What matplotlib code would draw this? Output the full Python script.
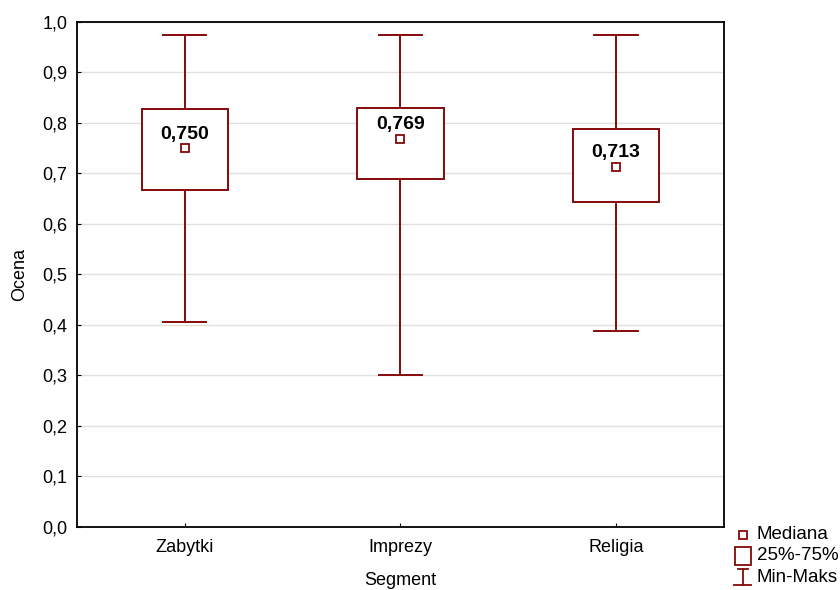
import matplotlib
matplotlib.use("Agg")
from matplotlib import pyplot as plt
from matplotlib.ticker import FuncFormatter, MultipleLocator
from matplotlib.lines import Line2D
from matplotlib.patches import Rectangle

plt.rcParams['font.family'] = ['Liberation Sans', 'DejaVu Sans']

segments = ['Zabytki', 'Imprezy', 'Religia']
medians = [0.750, 0.769, 0.713]
q25 = [0.667, 0.690, 0.643]
q75 = [0.828, 0.830, 0.789]
mins = [0.406, 0.300, 0.389]
maxs = [0.974, 0.974, 0.974]

red = '#850a0a'

fig = plt.figure(figsize=(8.4, 5.9), dpi=100)
ax = fig.add_axes([0.0917, 0.1068, 0.770, 0.856])

box_w = 0.4
cap_w = 0.2
lw = 1.4
for i in range(len(segments)):
    # whiskers
    ax.plot([i, i], [q75[i], maxs[i]], color=red, lw=lw, zorder=2)
    ax.plot([i, i], [mins[i], q25[i]], color=red, lw=lw, zorder=2)
    ax.plot([i - cap_w / 2, i + cap_w / 2], [maxs[i], maxs[i]], color=red, lw=lw, zorder=2)
    ax.plot([i - cap_w / 2, i + cap_w / 2], [mins[i], mins[i]], color=red, lw=lw, zorder=2)
    # box
    ax.add_patch(Rectangle((i - box_w / 2, q25[i]), box_w, q75[i] - q25[i],
                           facecolor='white', edgecolor=red, lw=lw, zorder=3))
    # median
    ax.plot(i, medians[i], marker='s', ms=6, mfc='white', mec=red, mew=1.3, zorder=4)
    ax.annotate(('%.3f' % medians[i]).replace('.', ','), (i, medians[i]),
                xytext=(0, 4), textcoords='offset points', ha='center', va='bottom',
                fontsize=14, fontweight='bold', zorder=5)

ax.set_xlim(-0.5, 2.5)
ax.set_ylim(0, 1.0)
ax.set_xticks(range(len(segments)))
ax.set_xticklabels(segments)
ax.yaxis.set_major_locator(MultipleLocator(0.1))
ax.yaxis.set_major_formatter(FuncFormatter(lambda v, p: ('%.1f' % v).replace('.', ',')))
ax.tick_params(axis='both', direction='in', length=3, labelsize=13, pad=7)
ax.tick_params(axis='x', pad=9)
ax.grid(axis='y', color='#e0e0e0', lw=1)
ax.set_axisbelow(True)
for s in ax.spines.values():
    s.set_linewidth(1.3)
ax.set_xlabel('Segment', fontsize=13, labelpad=11)
ax.set_ylabel('Ocena', fontsize=13, labelpad=10)

# legend drawn in figure coordinates
fx, fy = 0.884, [0.906, 0.942, 0.978]
fig.add_artist(Line2D([fx], [1 - fy[0]], marker='s', ms=5.5, mfc='white', mec=red, mew=1.3,
                      transform=fig.transFigure))
fig.add_artist(Rectangle((fx - 0.0095, 1 - fy[1] - 0.015), 0.019, 0.030, facecolor='white',
                         edgecolor=red, lw=1.3, transform=fig.transFigure))
fig.add_artist(Line2D([fx, fx], [1 - fy[2] - 0.014, 1 - fy[2] + 0.014], color=red, lw=1.3,
                      transform=fig.transFigure))
fig.add_artist(Line2D([fx - 0.006, fx + 0.006], [1 - fy[2] + 0.014] * 2, color=red, lw=1.3,
                      transform=fig.transFigure))
fig.add_artist(Line2D([fx - 0.01, fx + 0.01], [1 - fy[2] - 0.014] * 2, color=red, lw=1.3,
                      transform=fig.transFigure))
for lab, y in zip(['Mediana', '25%-75%', 'Min-Maks'], fy):
    fig.text(fx + 0.017, 1 - y, lab, fontsize=13.5, va='center', ha='left')

fig.savefig('out.png', dpi=100)
